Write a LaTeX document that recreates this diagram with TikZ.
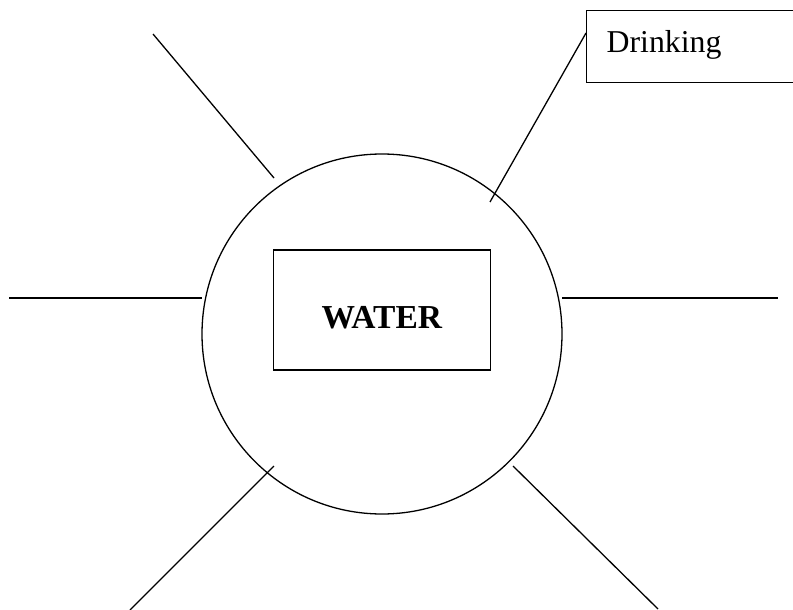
\documentclass[tikz,border=0pt]{standalone}
\usepackage{fontspec}
\setmainfont{Liberation Serif}
\begin{document}
\begin{tikzpicture}[x=1pt,y=-1pt,
  ink/.style={line width=1.3pt, black},
  boxed/.style={ink, draw, rectangle, inner sep=0pt, font=\fontsize{31.8}{38}\selectfont},
  spoke/.style={ink, line cap=butt}]
  \useasboundingbox (0,0) rectangle (793,610);

  % central circle and its title box
  \node (hub) [ink, draw, circle, minimum size=360pt, inner sep=0pt] at (382,334) {};
  \node (core) [boxed, minimum width=216.6pt, minimum height=120pt,
                font=\fontsize{33.5}{40}\selectfont,
                text height=36pt, text depth=0pt] at (382,310) {\textbf{WATER}};

  % labelled branch box (runs off the right edge)
  \node (drink) [boxed, anchor=north west, minimum height=72pt,
                 text width=205pt, inner xsep=20pt, align=left,
                 text height=20pt, text depth=8pt] at (586,10) {Drinking};

  % spoke end points
  \coordinate (ulA) at (153,34);   \coordinate (ulB) at (274,178);
  \coordinate (urA) at (586,33);   \coordinate (urB) at (490,202);
  \coordinate (lA)  at (9,298);    \coordinate (lB)  at (202,298);
  \coordinate (rA)  at (562,298);  \coordinate (rB)  at (778,298);
  \coordinate (llA) at (274,466);  \coordinate (llB) at (130,610);
  \coordinate (lrA) at (513,466);  \coordinate (lrB) at (658,609);

  % spokes
  \draw[spoke] (ulA) -- (ulB);
  \draw[spoke] (urA) -- (urB);
  \draw[spoke] (lA) -- (lB);
  \draw[spoke] (rA) -- (rB);
  \draw[spoke] (llA) -- (llB);
  \draw[spoke] (lrA) -- (lrB);
\end{tikzpicture}
\end{document}
